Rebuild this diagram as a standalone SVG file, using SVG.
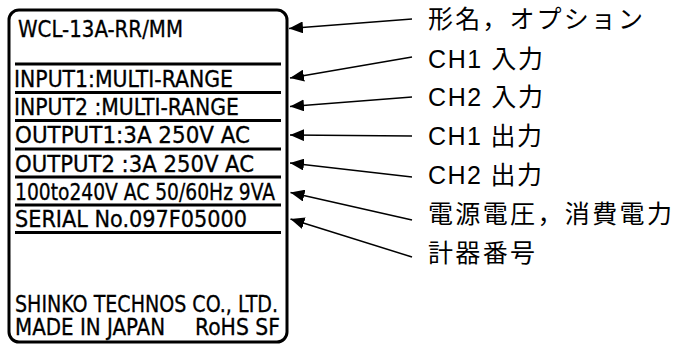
<svg xmlns="http://www.w3.org/2000/svg" width="680" height="347" viewBox="0 0 680 347">
<style>
.plate{fill:#fff;stroke:#000;stroke-width:3}
.rule{stroke:#000;stroke-width:3}
.pt{font-family:"DejaVu Sans Condensed","DejaVu Sans","Liberation Sans Narrow",sans-serif;font-size:23px;fill:#000;stroke:#000;stroke-width:0.3}
.lb{font-family:"Liberation Sans","Noto Sans CJK JP",sans-serif;font-size:25px;fill:#000}
.conn{stroke:#000;stroke-width:1.5;fill:none;marker-end:url(#ah)}
</style>
<defs>
<marker id="ah" markerWidth="14" markerHeight="12" refX="14" refY="6" orient="auto" markerUnits="userSpaceOnUse">
<path d="M0,0 L14,6 L0,12 z" fill="#000"/>
</marker>
</defs>
<rect width="680" height="347" fill="#fff"/>
<g id="plate">
<rect class="plate" x="9" y="10" width="278" height="332" rx="10"/>
<line class="rule" x1="15" y1="64" x2="281" y2="64"/>
<line class="rule" x1="15" y1="92.5" x2="281" y2="92.5"/>
<line class="rule" x1="15" y1="120.5" x2="281" y2="120.5"/>
<line class="rule" x1="15" y1="149" x2="281" y2="149"/>
<line class="rule" x1="15" y1="177" x2="281" y2="177"/>
<line class="rule" x1="15" y1="205" x2="281" y2="205"/>
<line class="rule" x1="15" y1="232.5" x2="281" y2="232.5"/>
<text class="pt" x="18" y="37" textLength="165" lengthAdjust="spacingAndGlyphs">WCL-13A-RR/MM</text>
<text class="pt" x="14" y="87" textLength="219" lengthAdjust="spacingAndGlyphs">INPUT1:MULTI-RANGE</text>
<text class="pt" x="14" y="115" textLength="225" lengthAdjust="spacingAndGlyphs">INPUT2 :MULTI-RANGE</text>
<text class="pt" x="15" y="143" textLength="235" lengthAdjust="spacingAndGlyphs">OUTPUT1:3A  250V  AC</text>
<text class="pt" x="15" y="171.5" textLength="239" lengthAdjust="spacingAndGlyphs">OUTPUT2 :3A  250V  AC</text>
<text class="pt" x="15" y="200" textLength="260" lengthAdjust="spacingAndGlyphs">100to240V AC 50/60Hz 9VA</text>
<text class="pt" x="15" y="227" textLength="232" lengthAdjust="spacingAndGlyphs">SERIAL No.097F05000</text>
<text class="pt" x="15" y="311.5" textLength="263" lengthAdjust="spacingAndGlyphs">SHINKO TECHNOS CO., LTD.</text>
<text class="pt" x="15" y="335" textLength="150" lengthAdjust="spacingAndGlyphs">MADE IN JAPAN</text>
<text class="pt" x="195" y="335" textLength="85" lengthAdjust="spacingAndGlyphs">RoHS SF</text>
</g>
<g id="connectors">
<line class="conn" x1="412" y1="19" x2="289" y2="28.5"/>
<line class="conn" x1="412" y1="57" x2="290" y2="78"/>
<line class="conn" x1="412" y1="97" x2="290" y2="106.5"/>
<line class="conn" x1="412" y1="136" x2="290" y2="135"/>
<line class="conn" x1="412" y1="177" x2="290" y2="163"/>
<line class="conn" x1="412" y1="220" x2="290.5" y2="192.5"/>
<line class="conn" x1="412" y1="257" x2="290.5" y2="219"/>
</g>
<g id="label-model"><text class="lb" x="428" y="28" textLength="215" lengthAdjust="spacing">形名，オプション</text></g>
<g id="label-ch1-in"><text class="lb" x="428" y="68" textLength="115" lengthAdjust="spacing">CH1 入力</text></g>
<g id="label-ch2-in"><text class="lb" x="428" y="106" textLength="115" lengthAdjust="spacing">CH2 入力</text></g>
<g id="label-ch1-out"><text class="lb" x="428" y="145" textLength="114" lengthAdjust="spacing">CH1 出力</text></g>
<g id="label-ch2-out"><text class="lb" x="428" y="184" textLength="114" lengthAdjust="spacing">CH2 出力</text></g>
<g id="label-power"><text class="lb" x="428" y="223" textLength="244" lengthAdjust="spacing">電源電圧，消費電力</text></g>
<g id="label-serial"><text class="lb" x="428" y="262" textLength="107" lengthAdjust="spacing">計器番号</text></g>
</svg>
